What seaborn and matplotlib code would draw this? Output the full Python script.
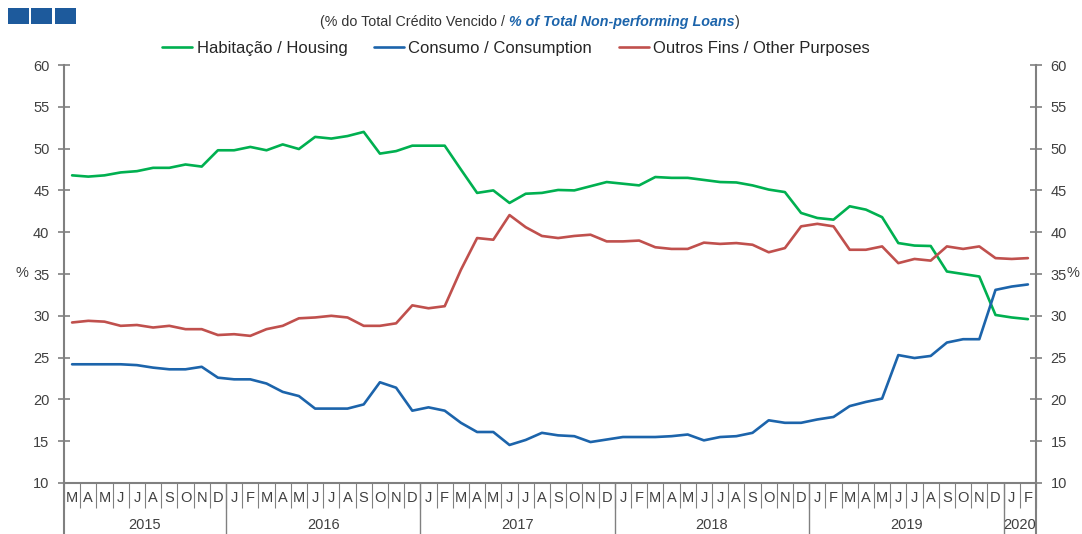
import seaborn as sns
import pandas as pd
import matplotlib.pyplot as plt
from matplotlib.patches import Rectangle
from matplotlib.transforms import blended_transform_factory

# Monthly data, Mar 2015 - Feb 2020 (% of total non-performing loans)
month_letters = (["M", "A", "M", "J", "J", "A", "S", "O", "N", "D"]
                 + ["J", "F", "M", "A", "M", "J", "J", "A", "S", "O", "N", "D"] * 4
                 + ["J", "F"])
years = ["2015", "2016", "2017", "2018", "2019", "2020"]
months_per_year = [10, 12, 12, 12, 12, 2]

housing = [46.8, 46.65, 46.8, 47.15, 47.3, 47.7, 47.7, 48.1, 47.85, 49.8,
           49.8, 50.2, 49.8, 50.5, 49.95, 51.4, 51.2, 51.5, 52.0, 49.4, 49.7, 50.35,
           50.35, 50.35, 47.5, 44.7, 45.0, 43.5, 44.6, 44.7, 45.05, 45.0, 45.5, 46.0,
           45.8, 45.6, 46.6, 46.5, 46.5, 46.25, 46.0, 45.95, 45.6, 45.1, 44.8, 42.3,
           41.7, 41.5, 43.1, 42.7, 41.8, 38.7, 38.4, 38.35, 35.3, 35.0, 34.7, 30.1,
           29.8, 29.6]
consumption = [24.2, 24.2, 24.2, 24.2, 24.1, 23.8, 23.6, 23.6, 23.9, 22.6,
               22.4, 22.4, 21.9, 20.9, 20.4, 18.9, 18.9, 18.9, 19.4, 22.05, 21.4, 18.65,
               19.05, 18.65, 17.2, 16.1, 16.1, 14.55, 15.15, 16.0, 15.7, 15.6, 14.9, 15.2,
               15.5, 15.5, 15.5, 15.6, 15.8, 15.1, 15.5, 15.6, 16.0, 17.5, 17.2, 17.2,
               17.6, 17.9, 19.2, 19.7, 20.1, 25.3, 24.95, 25.2, 26.8, 27.2, 27.2, 33.1,
               33.5, 33.75]
other = [29.2, 29.4, 29.3, 28.8, 28.9, 28.6, 28.8, 28.4, 28.4, 27.7,
         27.8, 27.6, 28.4, 28.8, 29.7, 29.8, 30.0, 29.8, 28.8, 28.8, 29.1, 31.25,
         30.9, 31.15, 35.5, 39.3, 39.1, 42.05, 40.6, 39.55, 39.3, 39.55, 39.7, 38.9,
         38.9, 39.0, 38.2, 38.0, 38.0, 38.75, 38.6, 38.7, 38.5, 37.6, 38.1, 40.7,
         41.0, 40.7, 37.9, 37.9, 38.3, 36.3, 36.8, 36.6, 38.3, 38.0, 38.3, 36.9,
         36.8, 36.9]

series_names = ["Habitação / Housing", "Consumo / Consumption", "Outros Fins / Other Purposes"]
colors = ["#00b050", "#1c64ab", "#c0504d"]

n = len(month_letters)
df = pd.DataFrame({
    "month": list(range(n)) * 3,
    "value": housing + consumption + other,
    "series": [series_names[0]] * n + [series_names[1]] * n + [series_names[2]] * n,
})

sns.set_style("white")
plt.rcParams["font.family"] = ["Liberation Sans", "DejaVu Sans"]

fig = plt.figure(figsize=(10.82, 5.34), dpi=100)
ax = fig.add_axes([64 / 1082, 1 - 483 / 534, (1036 - 64) / 1082, (483 - 65) / 534])

sns.lineplot(data=df, x="month", y="value", hue="series", hue_order=series_names,
             palette=colors, linewidth=1.9, ax=ax, legend=True)

grey = "#808080"
txt = "#404040"
ax.set_xlim(-0.5, n - 0.5)
ax.set_ylim(10, 60)
ax.set_yticks(range(10, 61, 5))
ax.set_xlabel("")
ax.set_ylabel("")

for side in ["left", "right", "bottom"]:
    ax.spines[side].set_visible(True)
    ax.spines[side].set_color(grey)
    ax.spines[side].set_linewidth(1.5)
ax.spines["top"].set_visible(False)

ax.tick_params(axis="y", which="major", direction="inout", length=9, width=1.2,
               color=grey, labelcolor=txt, labelsize=10.5, left=True, right=True,
               labelleft=True, labelright=True, pad=6)

# month letters as major ticks, separators as minor ticks
ax.set_xticks(range(n))
ax.set_xticklabels(month_letters)
ax.tick_params(axis="x", which="major", length=0, pad=6, labelsize=10.5, labelcolor=txt)
ax.set_xticks([i - 0.5 for i in range(n + 1)], minor=True)
ax.tick_params(axis="x", which="minor", direction="out", length=18, width=0.8,
               color=grey, bottom=True)

# year separators and year labels
trans = blended_transform_factory(ax.transData, fig.transFigure)
start = 0
bounds = [-0.5]
for y, m in zip(years, months_per_year):
    ax.text(start + (m - 1) / 2, 1 - 525 / 534, y, transform=trans, ha="center",
            va="center", fontsize=10.5, color=txt)
    start += m
    bounds.append(start - 0.5)
for b in bounds:
    ax.plot([b, b], [0, 1 - 483 / 534], transform=trans, color=grey,
            linewidth=1.5 if b in (-0.5, n - 0.5) else 1.0, clip_on=False)

fig.text(22 / 1082, 1 - 273 / 534, "%", ha="center", va="center", fontsize=10.5, color=txt)
fig.text(1073 / 1082, 1 - 273 / 534, "%", ha="center", va="center", fontsize=10.5, color=txt)

# legend
handles, labels = ax.get_legend_handles_labels()
ax.get_legend().remove()
fig.legend(handles, labels, loc="center", bbox_to_anchor=(516 / 1082, 1 - 48 / 534),
           ncol=3, frameon=False, fontsize=12, handlelength=1.8, handletextpad=0.25,
           columnspacing=1.6)

# subtitle with mixed styling
renderer = fig.canvas.get_renderer()
y_sub = 1 - 22 / 534
p1 = fig.text(0, y_sub, "(% do Total Crédito Vencido / ", fontsize=10.3, color="#333333",
              va="center", ha="left")
p2 = fig.text(0, y_sub, "% of Total Non-performing Loans", fontsize=10.3, color="#1c64ab",
              va="center", ha="left", fontweight="bold", fontstyle="italic")
p3 = fig.text(0, y_sub, ")", fontsize=10.3, color="#333333", va="center", ha="left")
w1 = p1.get_window_extent(renderer).width
w2 = p2.get_window_extent(renderer).width
w3 = p3.get_window_extent(renderer).width
x0 = 530 - (w1 + w2 + w3) / 2
p1.set_x(x0 / 1082)
p2.set_x((x0 + w1) / 1082)
p3.set_x((x0 + w1 + w2) / 1082)

# header squares
for x in [8, 31, 55]:
    fig.patches.append(Rectangle((x / 1082, 1 - 24 / 534), 21 / 1082, 16 / 534,
                                 transform=fig.transFigure, facecolor="#1d5a9c",
                                 edgecolor="none"))

fig.savefig("out.png", dpi=100)
